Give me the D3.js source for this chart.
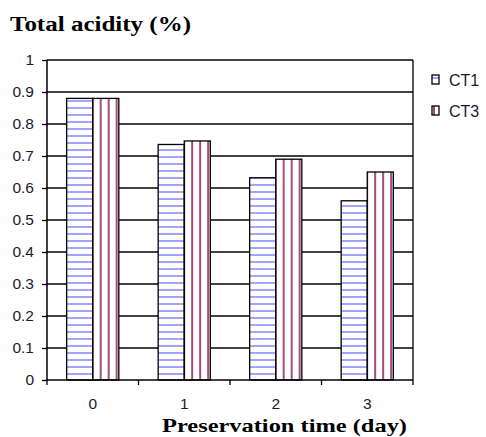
<!DOCTYPE html>
<html>
<head>
<meta charset="utf-8">
<script src="https://cdn.jsdelivr.net/npm/d3@7"></script>
<style>
body { margin: 0; background: #fff; }
svg text { font-family: Arial, "Liberation Sans", sans-serif; }
.title { font-family: "Times New Roman", "Liberation Serif", serif !important; font-weight: bold; }
</style>
</head>
<body>
<script>
var categories = ["0", "1", "2", "3"];
var seriesNames = ["CT1", "CT3"];
var ct1 = [0.88, 0.736, 0.632, 0.56];
var ct3 = [0.88, 0.747, 0.69, 0.65];
var yTicks = [0, 0.1, 0.2, 0.3, 0.4, 0.5, 0.6, 0.7, 0.8, 0.9, 1];

var width = 486, height = 437;
var margin = {top: 60, right: 73, bottom: 57, left: 47};

var svg = d3.select("body").append("svg")
	.attr("width", width)
	.attr("height", height);

//Patterns for the bars
var defs = svg.append("defs");
var pH = defs.append("pattern")
	.attr("id", "pat-ct1")
	.attr("patternUnits", "userSpaceOnUse")
	.attr("width", 8).attr("height", 7);
pH.append("rect").attr("width", 8).attr("height", 7).attr("fill", "#fff");
pH.append("rect").attr("x", 0).attr("y", 2).attr("width", 8).attr("height", 2).attr("fill", "#a4a4ff");

var pV = defs.append("pattern")
	.attr("id", "pat-ct3")
	.attr("patternUnits", "userSpaceOnUse")
	.attr("width", 8).attr("height", 8);
pV.append("rect").attr("width", 8).attr("height", 8).attr("fill", "#fff");
pV.append("rect").attr("x", 1).attr("y", 0).attr("width", 2).attr("height", 8).attr("fill", "#a34d7a");

var fills = ["url(#pat-ct1)", "url(#pat-ct3)"];

var xScale = d3.scaleBand()
	.domain(categories)
	.range([margin.left, width - margin.right])
	.paddingInner(0.43)
	.paddingOuter(0.215);

var xSub = d3.scaleBand()
	.domain(seriesNames)
	.range([0, xScale.bandwidth()]);

var yScale = d3.scaleLinear()
	.domain([0, 1])
	.range([height - margin.bottom, margin.top]);

//Gridlines
svg.append("g")
	.selectAll("line")
	.data(yTicks.filter(function(d){ return d > 0; }))
	.enter().append("line")
	.attr("x1", margin.left)
	.attr("x2", width - margin.right)
	.attr("y1", function(d){ return yScale(d); })
	.attr("y2", function(d){ return yScale(d); })
	.attr("stroke", "#000")
	.attr("stroke-width", 1.3);

//Right border
svg.append("line")
	.attr("x1", width - margin.right).attr("x2", width - margin.right)
	.attr("y1", yScale(1)).attr("y2", yScale(0))
	.attr("stroke", "#000").attr("stroke-width", 1.3);

//Bars
var data = categories.map(function(c, i){
	return {cat: c, vals: [ct1[i], ct3[i]]};
});

var groups = svg.append("g").selectAll("g")
	.data(data)
	.enter().append("g")
	.attr("transform", function(d){ return "translate(" + xScale(d.cat) + ",0)"; });

groups.selectAll("rect")
	.data(function(d){ return d.vals.map(function(v, j){ return {name: seriesNames[j], val: v, j: j}; }); })
	.enter().append("rect")
	.attr("x", function(d){ return xSub(d.name); })
	.attr("y", function(d){ return yScale(d.val); })
	.attr("width", xSub.bandwidth())
	.attr("height", function(d){ return yScale(0) - yScale(d.val); })
	.attr("fill", function(d){ return fills[d.j]; })
	.attr("stroke", "#000")
	.attr("stroke-width", 1.3);

//Axes
var yAxis = d3.axisLeft(yScale)
	.tickValues(yTicks)
	.tickSize(5)
	.tickPadding(8)
	.tickFormat(function(d){ return d3.format("")(+d.toFixed(1)); });

var gy = svg.append("g")
	.attr("transform", "translate(" + margin.left + ",0)")
	.call(yAxis);
gy.select(".domain").attr("stroke-width", 1.5).attr("d", "M0," + yScale(1) + "V" + yScale(0));
gy.selectAll(".tick line").attr("stroke-width", 1.3);
gy.selectAll("text").attr("font-size", 15.5).attr("fill", "#1a1a2e");

var gx = svg.append("g")
	.attr("transform", "translate(0," + yScale(0) + ")");
gx.append("line")
	.attr("x1", margin.left).attr("x2", width - margin.right)
	.attr("stroke", "#000").attr("stroke-width", 1.5);
var step = xScale.step();
var boundaries = d3.range(categories.length + 1).map(function(i){ return margin.left + i * step; });
gx.selectAll(".bt")
	.data(boundaries)
	.enter().append("line")
	.attr("x1", function(d){ return d; }).attr("x2", function(d){ return d; })
	.attr("y1", 0).attr("y2", 5)
	.attr("stroke", "#000").attr("stroke-width", 1.3);
gx.selectAll(".cl")
	.data(categories)
	.enter().append("text")
	.attr("x", function(d){ return xScale(d) + xScale.bandwidth() / 2; })
	.attr("y", 29)
	.attr("text-anchor", "middle")
	.attr("font-size", 15.5)
	.attr("fill", "#1a1a2e")
	.text(function(d){ return d; });

//Titles
svg.append("text")
	.attr("class", "title")
	.attr("x", 10).attr("y", 31)
	.attr("font-size", 20)
	.attr("textLength", 181)
	.attr("lengthAdjust", "spacingAndGlyphs")
	.text("Total acidity (%)");

svg.append("text")
	.attr("class", "title")
	.attr("x", 162).attr("y", 432)
	.attr("font-size", 19.5)
	.attr("textLength", 245)
	.attr("lengthAdjust", "spacingAndGlyphs")
	.text("Preservation time (day)");

//Legend
var legend = svg.append("g").selectAll("g")
	.data(seriesNames)
	.enter().append("g")
	.attr("transform", function(d, i){ return "translate(432," + (75 + i * 31) + ")"; });
legend.append("rect")
	.attr("width", 7).attr("height", 9)
	.attr("fill", function(d, i){ return fills[i]; })
	.attr("stroke", "#000").attr("stroke-width", 1.3);
legend.append("text")
	.attr("x", 17).attr("y", 10.5)
	.attr("font-size", 16)
	.attr("fill", "#1a1a2e")
	.text(function(d){ return d; });
</script>
</body>
</html>
